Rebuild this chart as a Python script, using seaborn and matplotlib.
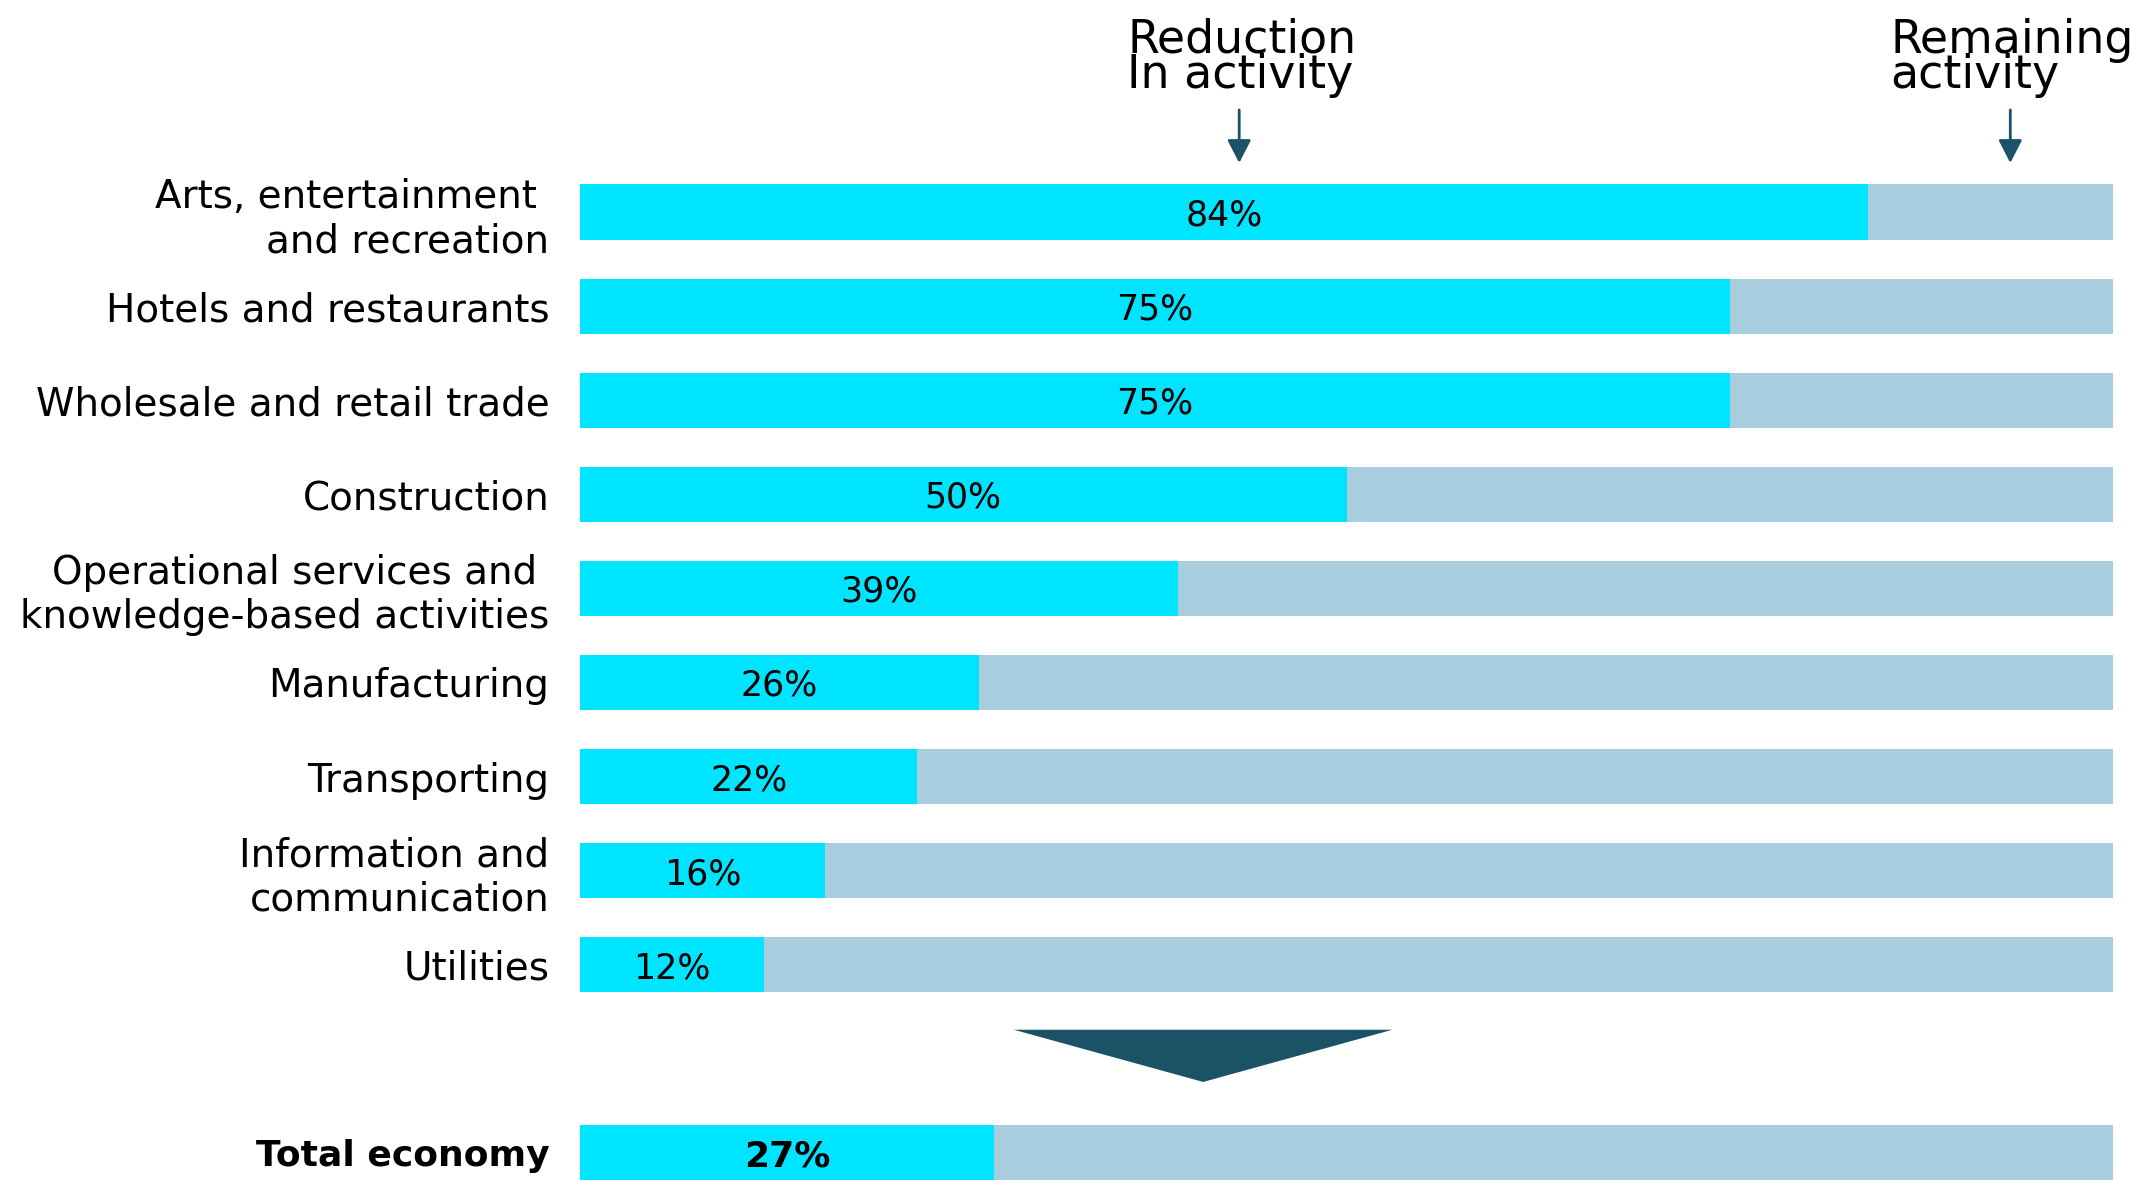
import matplotlib
matplotlib.use("Agg")
import matplotlib.pyplot as plt
import seaborn as sns
import pandas as pd
from matplotlib.patches import Polygon

# Data
sectors = [
    "Arts, entertainment \nand recreation",
    "Hotels and restaurants",
    "Wholesale and retail trade",
    "Construction",
    "Operational services and \nknowledge-based activities",
    "Manufacturing",
    "Transporting",
    "Information and\ncommunication",
    "Utilities",
    "Total economy",
]
reduction = [84, 75, 75, 50, 39, 26, 22, 16, 12, 27]
remaining = [16, 25, 25, 50, 61, 74, 78, 84, 88, 73]

CYAN = "#00E5FF"
LIGHT = "#A8CDDF"
TEAL = "#1B5266"

df = pd.DataFrame({"sector": sectors, "reduction": reduction, "remaining": remaining})
df["total"] = df["reduction"] + df["remaining"]

# empty slot before the total row, where the big arrow sits
order = sectors[:-1] + [" "] + sectors[-1:]

sns.set_style("white")
plt.rcParams["font.family"] = ["DejaVu Sans"]

fig = plt.figure(figsize=(21.34, 11.8), dpi=100)
ax = fig.add_axes([580 / 2134, 0, 1533 / 2134, 1])

sns.barplot(data=df, x="total", y="sector", order=order, orient="h", color=LIGHT,
            saturation=1, width=0.585, errorbar=None, linewidth=0, ax=ax)
sns.barplot(data=df, x="reduction", y="sector", order=order, orient="h", color=CYAN,
            saturation=1, width=0.585, errorbar=None, linewidth=0, ax=ax)

ax.set_xlim(0, 100)
ax.set_ylim(10.287, -2.253)
ax.set_xlabel("")
ax.set_ylabel("")
ax.set_xticks([])
for s in ax.spines.values():
    s.set_visible(False)

# category labels
ax.tick_params(axis="y", length=0, pad=22, labelsize=28)
for lbl in ax.get_yticklabels():
    lbl.set_color("black")
    if lbl.get_text() == "Total economy":
        lbl.set_fontweight("bold")
        lbl.set_fontsize(26)

# percentage labels centred on the cyan part
for name, r in zip(sectors, reduction):
    i = order.index(name)
    bold = name == "Total economy"
    ax.text(r / 2, i, f"{r}%", ha="center", va="center_baseline", color="black",
            fontsize=26 if bold else 25, fontweight="bold" if bold else "normal")

# header annotations with arrows (baseline = last line)
def header(x_text, x_arrow, label):
    ax.text(x_text, -1.318, label, fontsize=33, va="baseline", ha="left",
            color="black", linespacing=0.72)
    ax.annotate("", xy=(x_arrow, -0.521), xytext=(x_arrow, -1.085),
                arrowprops=dict(arrowstyle="-|>,head_length=0.7,head_width=0.36",
                                mutation_scale=20, color=TEAL, lw=2,
                                shrinkA=0, shrinkB=0))

header(35.7, 43.0, "Reduction\nIn activity")
header(85.5, 93.3, "Remaining\nactivity")

# big downward triangle between the sectors and the total
tri = Polygon([(28.3, 8.69), (53.0, 8.69), (40.65, 9.245)], closed=True,
              facecolor=TEAL, edgecolor="none")
ax.add_patch(tri)

fig.savefig("out.png", dpi=100)
